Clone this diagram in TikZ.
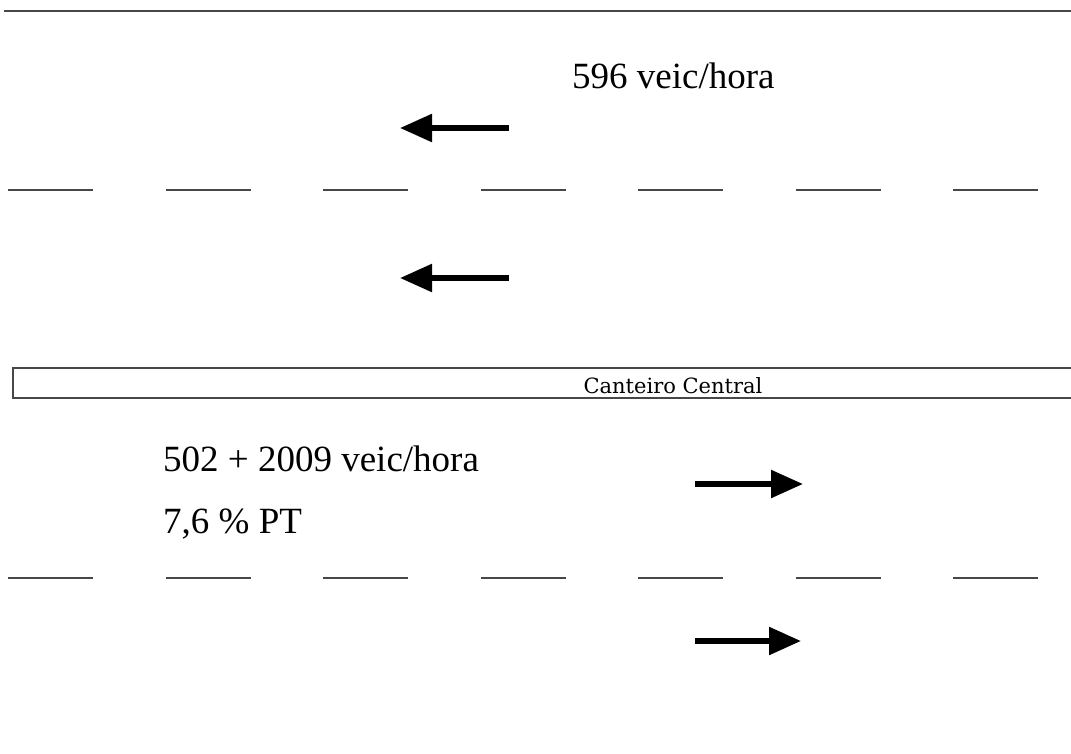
\documentclass[tikz,border=0pt]{standalone}
\usepackage{fontspec}
\setmainfont{Liberation Serif}
\newfontfamily\medfont{DejaVu Serif}
\usetikzlibrary{arrows.meta}

\tikzset{
  x=1pt, y=-1pt,
  edge/.style={draw=black!72, line width=2.4pt},
  lanedash/.style={draw=black!72, line width=2.4pt},
  flow/.style={draw=black, line width=5.5pt,
    -{Triangle[length=32pt,width=27pt]}},
  label/.style={inner sep=0pt, anchor=base west,
    font=\fontsize{37}{44}\selectfont},
  medlabel/.style={inner sep=0pt, anchor=base,
    font=\medfont\fontsize{21}{25}\selectfont}
}

\begin{document}
\begin{tikzpicture}
\useasboundingbox (0,0) rectangle (1071,753);

% road edge
\coordinate (edgeL) at (4,11);
\coordinate (edgeR) at (1071,11);
\draw[edge] (edgeL) -- (edgeR);

% lane markings
\foreach \i in {0,...,6} {
  \coordinate (ua\i) at ({8+157.5*\i},190);
  \coordinate (ub\i) at ({93+157.5*\i},190);
  \draw[lanedash] (ua\i) -- (ub\i);
  \coordinate (la\i) at ({8+157.5*\i},578);
  \coordinate (lb\i) at ({93+157.5*\i},578);
  \draw[lanedash] (la\i) -- (lb\i);
}

% central median
\coordinate (mTR) at (1071,368);
\coordinate (mTL) at (13,368);
\coordinate (mBL) at (13,398);
\coordinate (mBR) at (1071,398);
\draw[edge] (mTR) -- (mTL) -- (mBL) -- (mBR);
\node[medlabel] (median) at (673,393) {Canteiro Central};

% westbound flow
\node[label] (westvol) at (572,88) {596 veic/hora};
\coordinate (w1s) at (509,128);
\coordinate (w1e) at (400,128);
\draw[flow] (w1s) -- (w1e);
\coordinate (w2s) at (509,278);
\coordinate (w2e) at (400,278);
\draw[flow] (w2s) -- (w2e);

% eastbound flow
\node[label] (eastvol) at (163,471) {502 + 2009 veic/hora};
\node[label] (eastpt) at (163,533) {7,6 \% PT};
\coordinate (e1s) at (695,484);
\coordinate (e1e) at (803,484);
\draw[flow] (e1s) -- (e1e);
\coordinate (e2s) at (695,641);
\coordinate (e2e) at (801,641);
\draw[flow] (e2s) -- (e2e);
\end{tikzpicture}
\end{document}
